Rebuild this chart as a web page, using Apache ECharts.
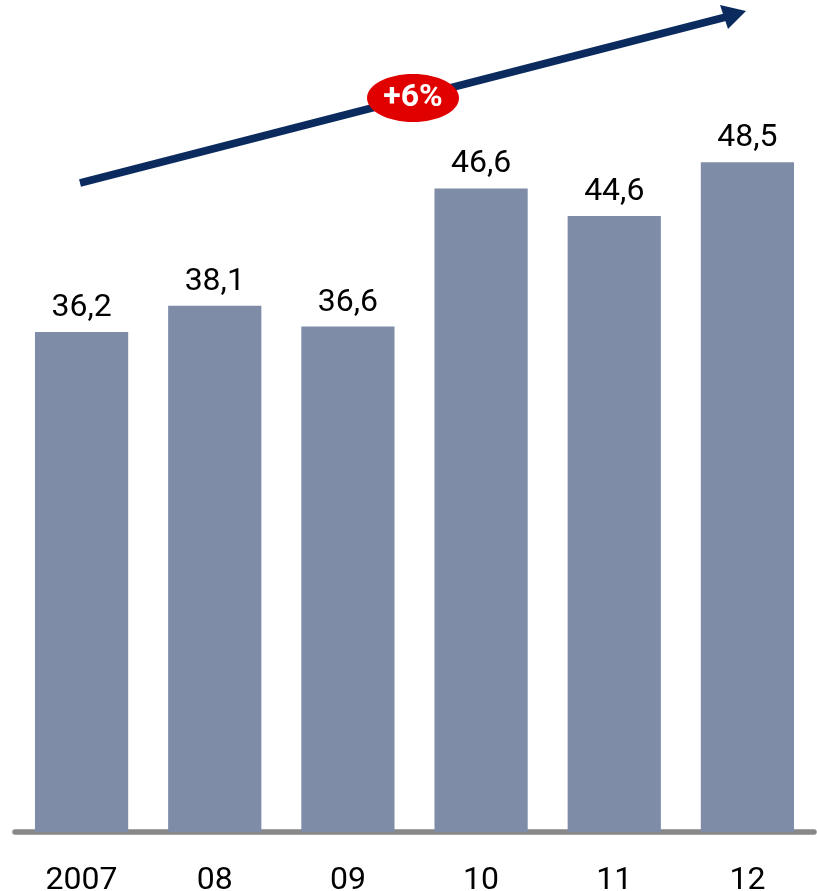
<!DOCTYPE html>
<html>
<head>
<meta charset="utf-8">
<script src="https://cdn.jsdelivr.net/npm/echarts@6/dist/echarts.min.js"></script>
<style>html,body{margin:0;padding:0;background:#fff;}#c{width:817px;height:891px;}</style>
</head>
<body>
<div id="c"></div>
<script>
var categories = ['2007', '08', '09', '10', '11', '12'];
var values = [36.2, 38.1, 36.6, 46.6, 44.6, 48.5];
var growthLabel = '+6%';

var chart = echarts.init(document.getElementById('c'));
var FONT = 'Roboto';
chart.setOption({
  animation: false,
  grid: { left: 15, right: 3, top: 3.4, bottom: 59, containLabel: false, outerBoundsMode: 'none' },
  xAxis: {
    type: 'category',
    data: categories,
    offset: 2.5,
    axisLine: { lineStyle: { color: '#888888', width: 5.5 } },
    axisTick: { show: false },
    axisLabel: { color: '#000', fontSize: 32, fontFamily: FONT, margin: 30 }
  },
  yAxis: { type: 'value', min: 0, max: 60, show: false, splitLine: { show: false } },
  series: [{
    type: 'bar',
    data: values,
    barWidth: '70%',
    itemStyle: { color: '#7f8ca8' },
    label: {
      show: true, position: 'top', distance: 8, color: '#000',
      fontSize: 32, fontFamily: FONT,
      formatter: function (p) { return String(p.value.toFixed(1)).replace('.', ','); }
    }
  }],
  graphic: [
    { type: 'line', shape: { x1: 80, y1: 183, x2: 726, y2: 17 }, style: { stroke: '#0b2a5e', lineWidth: 7.5 }, z: 10 },
    { type: 'polygon', shape: { points: [[746, 11], [720, 5], [728, 29]] }, style: { fill: '#0b2a5e' }, z: 10 },
    { type: 'ellipse', shape: { cx: 413, cy: 98, rx: 46, ry: 24 }, style: { fill: '#e00000' }, z: 11 },
    { type: 'text', x: 413, y: 98, style: { text: growthLabel, fill: '#fff', font: 'bold 32px Roboto', align: 'center', verticalAlign: 'middle' }, z: 12 }
  ]
});
</script>
</body>
</html>
